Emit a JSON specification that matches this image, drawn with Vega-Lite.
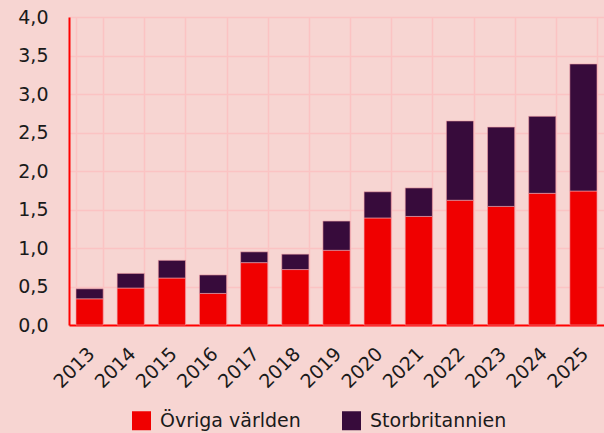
{
  "$schema": "https://vega.github.io/schema/vega-lite/v6.json",
  "autosize": {"type": "none"},
  "width": 535,
  "height": 308,
  "padding": {"left": 69, "top": 17, "right": 0, "bottom": 108},
  "background": "#f7d5d2",
  "config": {
    "font": "DejaVu Sans",
    "view": {"stroke": null},
    "axis": {"labelFont": "DejaVu Sans", "labelColor": "#1a1a1a"},
    "legend": {"labelFont": "DejaVu Sans"}
  },
  "data": {
    "values": [
      {"year": "2013", "series": "Övriga världen", "ord": 1, "value": 0.34},
      {"year": "2014", "series": "Övriga världen", "ord": 1, "value": 0.48},
      {"year": "2015", "series": "Övriga världen", "ord": 1, "value": 0.61},
      {"year": "2016", "series": "Övriga världen", "ord": 1, "value": 0.41},
      {"year": "2017", "series": "Övriga världen", "ord": 1, "value": 0.81},
      {"year": "2018", "series": "Övriga världen", "ord": 1, "value": 0.72},
      {"year": "2019", "series": "Övriga världen", "ord": 1, "value": 0.97},
      {"year": "2020", "series": "Övriga världen", "ord": 1, "value": 1.39},
      {"year": "2021", "series": "Övriga världen", "ord": 1, "value": 1.41},
      {"year": "2022", "series": "Övriga världen", "ord": 1, "value": 1.62},
      {"year": "2023", "series": "Övriga världen", "ord": 1, "value": 1.54},
      {"year": "2024", "series": "Övriga världen", "ord": 1, "value": 1.71},
      {"year": "2025", "series": "Övriga världen", "ord": 1, "value": 1.74},
      {"year": "2013", "series": "Storbritannien", "ord": 2, "value": 0.13},
      {"year": "2014", "series": "Storbritannien", "ord": 2, "value": 0.19},
      {"year": "2015", "series": "Storbritannien", "ord": 2, "value": 0.23},
      {"year": "2016", "series": "Storbritannien", "ord": 2, "value": 0.24},
      {"year": "2017", "series": "Storbritannien", "ord": 2, "value": 0.14},
      {"year": "2018", "series": "Storbritannien", "ord": 2, "value": 0.2},
      {"year": "2019", "series": "Storbritannien", "ord": 2, "value": 0.38},
      {"year": "2020", "series": "Storbritannien", "ord": 2, "value": 0.34},
      {"year": "2021", "series": "Storbritannien", "ord": 2, "value": 0.37},
      {"year": "2022", "series": "Storbritannien", "ord": 2, "value": 1.03},
      {"year": "2023", "series": "Storbritannien", "ord": 2, "value": 1.03},
      {"year": "2024", "series": "Storbritannien", "ord": 2, "value": 1.0},
      {"year": "2025", "series": "Storbritannien", "ord": 2, "value": 1.65}
    ]
  },
  "mark": {"type": "bar", "stroke": "#f2a0a8", "strokeWidth": 1, "strokeOpacity": 0.6},
  "encoding": {
    "x": {
      "field": "year",
      "type": "nominal",
      "title": null,
      "scale": {"paddingInner": 0.34, "paddingOuter": 0.17},
      "axis": {
        "labelAngle": -45,
        "labelFontSize": 19,
        "labelPadding": 19,
        "labelOffset": -5,
        "ticks": false,
        "domainColor": "#ff0000",
        "domainWidth": 2,
        "grid": true,
        "tickBand": "extent",
        "gridColor": "#fbc3c3",
        "gridWidth": 1.5
      }
    },
    "y": {
      "field": "value",
      "type": "quantitative",
      "stack": "zero",
      "title": null,
      "scale": {"domain": [0, 4], "nice": false},
      "axis": {
        "values": [0, 0.5, 1, 1.5, 2, 2.5, 3, 3.5, 4],
        "labelExpr": "replace(format(datum.value, '.1f'), '.', ',')",
        "labelFontSize": 19,
        "labelPadding": 21,
        "ticks": false,
        "domainColor": "#ff0000",
        "domainWidth": 2,
        "gridColor": "#fbc3c3",
        "gridWidth": 1.5
      }
    },
    "color": {
      "field": "series",
      "type": "nominal",
      "scale": {"domain": ["Övriga världen", "Storbritannien"], "range": ["#f00000", "#370b3b"]},
      "legend": {
        "title": null,
        "orient": "none",
        "legendX": 63,
        "legendY": 394,
        "direction": "horizontal",
        "symbolType": "square",
        "symbolSize": 361,
        "symbolStrokeWidth": 0,
        "labelFontSize": 19,
        "labelColor": "#1a1a1a",
        "labelOffset": 9,
        "columnPadding": 41
      }
    },
    "order": {"field": "ord", "type": "quantitative"}
  }
}
